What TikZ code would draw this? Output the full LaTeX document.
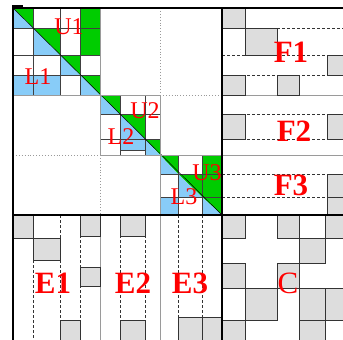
\documentclass[tikz,border=0pt]{standalone}
\usepackage{fontspec}
\setmainfont{Liberation Serif}
\definecolor{lugreen}{HTML}{00CC00}
\definecolor{lublue}{HTML}{88CCF8}
\definecolor{nzgray}{HTML}{DDDDDD}
\definecolor{gridgray}{HTML}{9A9A9A}
\usepackage{tikz}

\begin{document}
\begin{tikzpicture}[x=1pt,y=-1pt,
  nz/.style={fill=nzgray,draw=black!80,line width=0.6pt},
  sub/.style={draw=black!75,line width=0.5pt},
  grd/.style={draw=gridgray,line width=0.9pt},
  sep/.style={draw=gridgray,dotted,line width=0.9pt},
  dsh/.style={draw=black!80,dash pattern=on 3pt off 2pt,line width=0.6pt},
  bord/.style={draw=black,line width=2pt},
  lu/.style={text=red,inner sep=0pt,font=\fontsize{24}{24}\selectfont},
  blocklbl/.style={text=red,inner sep=0pt,font=\fontsize{31}{31}\selectfont\bfseries}]
  \useasboundingbox (0,0) rectangle (343,340);
  \clip (0,0) rectangle (343,340);
  % diagonal blocks: U part green, L part blue
  \fill[lugreen] (13,8) -- (33,8) -- (33,28) -- cycle (33,28) -- (60,28) -- (60,55) -- cycle
    (60,55) -- (80,55) -- (80,75) -- cycle (80,75) -- (100,75) -- (100,95) -- cycle
    (100,95) -- (120,95) -- (120,114) -- cycle (120,114) -- (145,114) -- (145,139) -- cycle
    (145,139) -- (160,139) -- (160,155) -- cycle
    (160,155) -- (178,155) -- (178,174) -- cycle (178,174) -- (202,174) -- (202,197) -- cycle
    (202,197) -- (222,197) -- (222,215) -- cycle;
  \fill[lublue] (13,8) -- (13,28) -- (33,28) -- cycle (33,28) -- (33,55) -- (60,55) -- cycle
    (60,55) -- (60,75) -- (80,75) -- cycle (80,75) -- (80,95) -- (100,95) -- cycle
    (100,95) -- (100,114) -- (120,114) -- cycle (120,114) -- (120,139) -- (145,139) -- cycle
    (145,139) -- (145,155) -- (160,155) -- cycle
    (160,155) -- (160,174) -- (178,174) -- cycle (178,174) -- (178,197) -- (202,197) -- cycle
    (202,197) -- (202,215) -- (222,215) -- cycle;
  \fill[lugreen] (80,8) rectangle (100,55) (202,155) rectangle (222,197);
  \fill[lublue] (13,75) rectangle (60,95) (120,139) rectangle (145,150) (160,197) rectangle (178,215);
  % sub-block lines
  \draw[sub] (33,8) -- (33,95) (60,8) -- (60,95) (80,8) -- (80,95)
    (13,28) -- (100,28) (13,55) -- (100,55) (13,75) -- (100,75);
  \draw[sub] (120,95) -- (120,155) (145,95) -- (145,155)
    (100,114) -- (160,114) (100,139) -- (160,139) (120,150) -- (145,150);
  \draw[sub] (178,155) -- (178,215) (202,155) -- (202,215)
    (160,174) -- (222,174) (160,197) -- (222,197);
  \draw[black,line width=0.5pt] (13,8) -- (222,215);
  % dashed row / column lines of the borders
  \draw[dsh] (33,215) -- (33,350) (60,215) -- (60,350) (80,215) -- (80,350)
    (120,215) -- (120,350) (145,215) -- (145,350) (178,215) -- (178,350) (202,215) -- (202,350);
  \draw[dsh] (222,28) -- (350,28) (222,55) -- (350,55) (222,75) -- (350,75)
    (222,114) -- (350,114) (222,139) -- (350,139) (222,174) -- (350,174) (222,197) -- (350,197);
  % block boundaries
  \draw[grd] (13,8) rectangle (100,95) (100,95) rectangle (160,155) (160,155) rectangle (222,215);
  \draw[grd] (100,215) -- (100,350) (160,215) -- (160,350) (222,95) -- (350,95) (222,155) -- (350,155);
  \draw[sep] (160,8) -- (160,95) -- (222,95) (13,155) -- (100,155) -- (100,215);
  % nonzero blocks in E
  \filldraw[nz] (13,215) rectangle (33,238) (33,238) rectangle (60,260) (60,320) rectangle (80,350)
    (80,215) rectangle (100,236) (80,267) rectangle (100,286)
    (120,215) rectangle (145,236) (120,320) rectangle (145,350)
    (178,317) rectangle (202,350) (202,317) rectangle (222,350);
  % nonzero blocks in F
  \filldraw[nz] (222,8) rectangle (245,28) (245,28) rectangle (277,55) (327,55) rectangle (350,75)
    (222,75) rectangle (245,95) (277,75) rectangle (299,95)
    (222,114) rectangle (245,139) (327,114) rectangle (350,139)
    (327,174) rectangle (350,197) (327,197) rectangle (350,215);
  % nonzero blocks in C
  \filldraw[nz] (222,215) rectangle (245,238) (277,215) rectangle (299,238) (325,215) rectangle (350,238)
    (299,238) rectangle (325,263) (222,263) rectangle (245,288) (277,263) rectangle (299,288)
    (245,288) rectangle (277,320) (299,288) rectangle (325,320) (325,288) rectangle (350,320)
    (222,320) rectangle (245,350) (299,320) rectangle (325,350);
  % thick frame
  \draw[bord] (12.5,8) -- (350,8) (12.5,7) -- (12.5,350) (222,8) -- (222,350) (12.5,215) -- (350,215);
  \draw[bord] (12,6) -- (23,6);
  % labels
  \node[lu] (u1) at (69,27) {U1};
  \node[lu] (l1) at (38,77) {L1};
  \node[lu] (u2) at (145,111) {U2};
  \node[lu] (l2) at (121,137) {L2};
  \node[lu] (u3) at (207,173) {U3};
  \node[lu] (l3) at (184,197) {L3};
  \node[blocklbl] (f1) at (291,52) {F1};
  \node[blocklbl] (f2) at (294,131) {F2};
  \node[blocklbl] (f3) at (291,185) {F3};
  \node[blocklbl] (e1) at (53,283) {E1};
  \node[blocklbl] (e2) at (133,283) {E2};
  \node[blocklbl] (e3) at (190,283) {E3};
  \node[text=red,inner sep=0pt,font=\fontsize{31}{31}\selectfont] (c) at (288,283) {C};
\end{tikzpicture}
\end{document}
